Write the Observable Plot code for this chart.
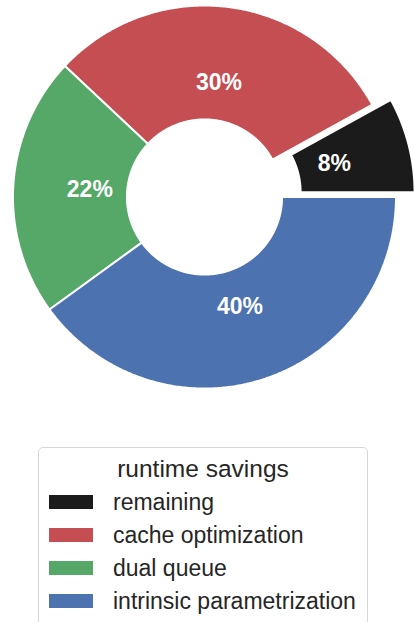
<!DOCTYPE html>
<html>
<head>
<meta charset="utf-8">
<script src="https://cdn.jsdelivr.net/npm/d3@7"></script>
<script src="https://cdn.jsdelivr.net/npm/@observablehq/plot@0.6"></script>
<style>
  html, body { margin: 0; padding: 0; background: #fff; }
  body { width: 414px; height: 622px; position: relative; overflow: hidden; font-family: "Liberation Sans", Arial, sans-serif; }
  #chart { position: absolute; left: 0; top: 0; }
  #legend { position: absolute; left: 38px; top: 447px; width: 330px; height: 190px; border: 1px solid #d6d6d6; border-radius: 5px; box-sizing: border-box; background: #fff; }
  #legend .title { position: absolute; left: 0; width: 100%; top: 6px; text-align: center; font-size: 24.5px; color: #262626; line-height: 30px; }
  #legend .row { position: absolute; left: 10px; height: 28px; display: flex; align-items: center; }
  #legend .sw { width: 44px; height: 14px; margin-right: 20px; }
  #legend .lab { font-size: 23px; color: #262626; white-space: nowrap; line-height: 28px; }
</style>
</head>
<body>
<div id="chart"></div>
<div id="legend"></div>
<script>
// ---- data ----
const categories = ["remaining", "cache optimization", "dual queue", "intrinsic parametrization"];
const values = [8, 30, 22, 40];
const colors = ["#1b1b1b", "#c44e52", "#55a868", "#4c72b0"];
const explode = [0.1, 0, 0, 0];
const legendTitle = "runtime savings";

// ---- geometry (in units of the outer radius) ----
const inner = 0.405, labelR = 0.6;
const total = d3.sum(values);
const polys = [], labels = [];
let start = 0;
values.forEach((v, i) => {
  const a0 = start, a1 = start + 360 * v / total;
  start = a1;
  const mid = (a0 + a1) / 2 * Math.PI / 180;
  const ox = explode[i] * Math.cos(mid), oy = explode[i] * Math.sin(mid);
  const n = Math.max(4, Math.ceil(a1 - a0) * 2);
  const pts = [];
  for (let k = 0; k <= n; k++) {
    const a = (a0 + (a1 - a0) * k / n) * Math.PI / 180;
    pts.push({cat: categories[i], x: ox + Math.cos(a), y: oy + Math.sin(a)});
  }
  for (let k = n; k >= 0; k--) {
    const a = (a0 + (a1 - a0) * k / n) * Math.PI / 180;
    pts.push({cat: categories[i], x: ox + inner * Math.cos(a), y: oy + inner * Math.sin(a)});
  }
  pts.push(pts[0]);
  polys.push(...pts);
  labels.push({cat: categories[i], text: Math.round(v / total * 100) + "%",
    x: ox + labelR * Math.cos(mid), y: oy + labelR * Math.sin(mid)});
});

const W = 414, H = 420, cx = 204, cy = 196.5, R = 191.5;
const chart = Plot.plot({
  width: W, height: H,
  margin: 0,
  x: {domain: [-cx / R, (W - cx) / R], range: [0, W], axis: null},
  y: {domain: [-(H - cy) / R, cy / R], range: [H, 0], axis: null},
  color: {domain: categories, range: colors},
  style: {background: "transparent"},
  marks: [
    Plot.line(polys, {x: "x", y: "y", z: "cat", fill: "cat", stroke: "white", strokeWidth: 2, curve: "linear", strokeLinejoin: "miter"}),
    Plot.text(labels, {x: "x", y: "y", text: "text", fill: "white", fontSize: 23, fontWeight: "bold", fontFamily: "Liberation Sans, Arial, sans-serif"})
  ]
});
document.getElementById("chart").appendChild(chart);

// ---- legend ----
const lg = document.getElementById("legend");
const t = document.createElement("div");
t.className = "title"; t.textContent = legendTitle;
lg.appendChild(t);
categories.forEach((c, i) => {
  const row = document.createElement("div");
  row.className = "row";
  row.style.top = (40 + i * 33) + "px";
  const sw = document.createElement("div");
  sw.className = "sw"; sw.style.background = colors[i];
  const lab = document.createElement("span");
  lab.className = "lab"; lab.textContent = c;
  row.appendChild(sw); row.appendChild(lab);
  lg.appendChild(row);
});
</script>
</body>
</html>
